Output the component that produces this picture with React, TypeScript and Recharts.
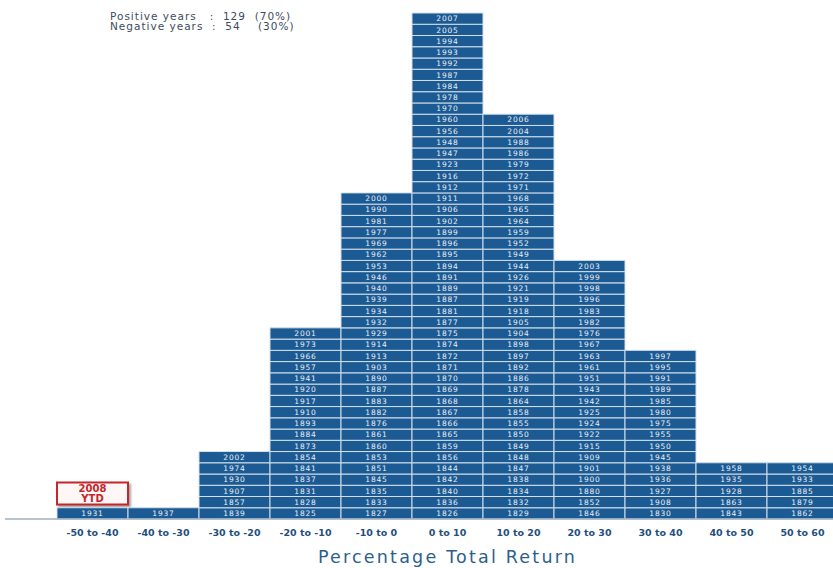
import { Bar, BarChart, LabelList, ReferenceArea, XAxis, YAxis } from "recharts";

// bins of percentage total return, years listed bottom -> top
const bins = [
  "-50 to -40",
  "-40 to -30",
  "-30 to -20",
  "-20 to -10",
  "-10 to 0",
  "0 to 10",
  "10 to 20",
  "20 to 30",
  "30 to 40",
  "40 to 50",
  "50 to 60",
];

const yearsM50 = [1931];
const yearsM40 = [1937];
const yearsM30 = [1839, 1857, 1907, 1930, 1974, 2002];
const yearsM20 = [
  1825, 1828, 1831, 1837, 1841, 1854, 1873, 1884, 1893, 1910, 1917, 1920, 1941, 1957, 1966, 1973, 2001,
];
const yearsM10 = [
  1827, 1833, 1835, 1845, 1851, 1853, 1860, 1861, 1876, 1882, 1883, 1887, 1890, 1903, 1913, 1914, 1929,
  1932, 1934, 1939, 1940, 1946, 1953, 1962, 1969, 1977, 1981, 1990, 2000,
];
const years0 = [
  1826, 1836, 1840, 1842, 1844, 1856, 1859, 1865, 1866, 1867, 1868, 1869, 1870, 1871, 1872, 1874, 1875,
  1877, 1881, 1887, 1889, 1891, 1894, 1895, 1896, 1899, 1902, 1906, 1911, 1912, 1916, 1923, 1947, 1948,
  1956, 1960, 1970, 1978, 1984, 1987, 1992, 1993, 1994, 2005, 2007,
];
const years10 = [
  1829, 1832, 1834, 1838, 1847, 1848, 1849, 1850, 1855, 1858, 1864, 1878, 1886, 1892, 1897, 1898, 1904,
  1905, 1918, 1919, 1921, 1926, 1944, 1949, 1952, 1959, 1964, 1965, 1968, 1971, 1972, 1979, 1986, 1988,
  2004, 2006,
];
const years20 = [
  1846, 1852, 1880, 1900, 1901, 1909, 1915, 1922, 1924, 1925, 1942, 1943, 1951, 1961, 1963, 1967, 1976,
  1982, 1983, 1996, 1998, 1999, 2003,
];
const years30 = [1830, 1908, 1927, 1936, 1938, 1945, 1950, 1955, 1975, 1980, 1985, 1989, 1991, 1995, 1997];
const years40 = [1843, 1863, 1928, 1935, 1958];
const years50 = [1862, 1879, 1885, 1933, 1954];

const yearsByBin = [
  yearsM50, yearsM40, yearsM30, yearsM20, yearsM10, years0, years10, years20, years30, years40, years50,
];

const maxCells = Math.max(...yearsByBin.map((y) => y.length));

const rows = bins.map((bin, b) => {
  const row: Record<string, string | number> = { bin };
  yearsByBin[b].forEach((yr, i) => {
    row[`s${i}`] = 1;
    row[`l${i}`] = String(yr);
  });
  return row;
});

const CELL = "#1b5a93";
const GRID = "#d3dfea";

function YtdBadge(props: any) {
  const { viewBox } = props;
  const cx = viewBox.x + viewBox.width / 2;
  const cy = viewBox.y + viewBox.height / 2;
  const font = { textAnchor: "middle" as const, fill: "#c3272d", fontSize: 10, fontWeight: "bold", fontFamily: "DejaVu Sans, sans-serif" };
  return (
    <g>
      <text x={cx} y={cy - 1.5} {...font}>
        2008
      </text>
      <text x={cx} y={cy + 8.5} {...font}>
        YTD
      </text>
    </g>
  );
}

export default function App() {
  return (
    <div
      style={{
        position: "absolute",
        left: 0,
        top: 0,
        width: 833,
        height: 568,
        overflow: "hidden",
        background: "#fff",
      }}
    >
      <div
        style={{
          position: "absolute",
          left: 110,
          top: 11,
          fontFamily: "DejaVu Sans, sans-serif",
          fontSize: 10.5,
          lineHeight: "10px",
          color: "#3e4c5c",
          letterSpacing: 1,
          whiteSpace: "pre",
        }}
      >
        {"Positive years   :  129  (70%)\nNegative years  :  54    (30%)"}
      </div>
      <BarChart
        width={840}
        height={568}
        data={rows}
        barCategoryGap={0}
        margin={{ top: 13, right: 2, bottom: 0, left: 5 }}
      >
        <XAxis
          dataKey="bin"
          padding={{ left: 52, right: 0 }}
          axisLine={{ stroke: "#9eb0c2", strokeWidth: 1.5 }}
          tickLine={false}
          tickMargin={4}
          height={49}
          interval={0}
          tick={{ fontSize: 9.5, fill: "#1f4f7f", fontWeight: "bold", fontFamily: "DejaVu Sans, sans-serif" }}
          label={{
            value: "Percentage Total Return",
            position: "insideBottom",
            offset: 5,
            dx: 26,
            fontSize: 17.5,
            letterSpacing: 2.2,
            fill: "#2d5f8c",
            fontFamily: "DejaVu Sans, sans-serif",
          }}
        />
        <YAxis hide type="number" domain={[0, maxCells]} />
        {Array.from({ length: maxCells }, (_, i) => (
          <Bar
            key={i}
            dataKey={`s${i}`}
            stackId="cells"
            fill={CELL}
            stroke={GRID}
            strokeWidth={1}
            isAnimationActive={false}
          >
            <LabelList
              dataKey={`l${i}`}
              position="center"
              fill="#e9eff6"
              fontSize={7.5}
              letterSpacing={0.8}
              fontFamily="DejaVu Sans, sans-serif"
            />
          </Bar>
        ))}
        <ReferenceArea
          x1="-50 to -40"
          x2="-50 to -40"
          y1={1.3}
          y2={3.25}
          fill="#fff6f6"
          fillOpacity={1}
          stroke="#c3272d"
          strokeWidth={2}
          style={{ filter: "drop-shadow(2px 2px 1px rgba(0,0,0,0.35))" }}
          label={<YtdBadge />}
        />
      </BarChart>
    </div>
  );
}
